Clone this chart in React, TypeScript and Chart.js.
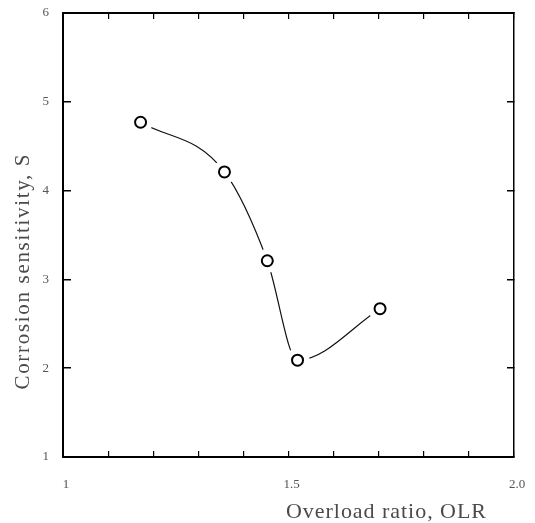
import React, { useEffect, useRef } from "react";
import { Chart, registerables } from "chart.js";

Chart.register(...registerables);

const olr = [1.172, 1.358, 1.453, 1.52, 1.703];
const sensitivity = [4.77, 4.21, 3.21, 2.09, 2.67];
const xTickLabels: Record<string, string> = { "1": "1", "1.5": "1.5", "2": "2.0" };
const yTitle = "Corrosion sensitivity, S";
const xTitle = "Overload ratio, OLR";

const SERIF = "'Liberation Serif', 'DejaVu Serif', serif";

const zeroPad = (s: any) => {
  s.paddingLeft = 0;
  s.paddingRight = 0;
  s.paddingTop = 0;
  s.paddingBottom = 0;
};

const titlePlugin = {
  id: "axisTitles",
  afterDraw(chart: any) {
    const ctx = chart.ctx as CanvasRenderingContext2D;
    const drawSpaced = (text: string, x: number, y: number, target: number, rot: number, size: number) => {
      ctx.save();
      ctx.font = `${size}px ${SERIF}`;
      ctx.fillStyle = "#4a4a4a";
      (ctx as any).letterSpacing = "0px";
      const w = ctx.measureText(text).width;
      const sp = Math.max(0, (target - w) / (text.length - 1));
      (ctx as any).letterSpacing = `${sp}px`;
      ctx.translate(x, y);
      ctx.rotate(rot);
      ctx.textAlign = "left";
      ctx.textBaseline = "middle";
      ctx.fillText(text, -target / 2, 0);
      ctx.restore();
    };
    drawSpaced(yTitle, 23, 272, 235, -Math.PI / 2, 21);
    drawSpaced(xTitle, 386, 512, 200, 0, 22);
  },
};

export default function App() {
  const ref = useRef<HTMLCanvasElement>(null);
  useEffect(() => {
    document.body.style.margin = "0";
    const pts = olr.map((x, i) => ({ x, y: sensitivity[i] }));
    const chart = new Chart(ref.current!, {
      type: "scatter",
      data: {
        datasets: [
          {
            data: pts,
            showLine: true,
            pointRadius: 0,
            borderColor: "#111",
            borderWidth: 1.2,
            cubicInterpolationMode: "monotone",
            order: 3,
          } as any,
          {
            data: pts,
            showLine: false,
            pointRadius: 12,
            pointBorderWidth: 0,
            pointBackgroundColor: "#ffffff",
            pointBorderColor: "#ffffff",
            order: 2,
          },
          {
            data: pts,
            showLine: false,
            pointRadius: 5.5,
            pointBorderWidth: 2,
            pointBorderColor: "#000",
            pointBackgroundColor: "#ffffff",
            order: 1,
          },
        ],
      },
      options: {
        animation: false,
        responsive: false,
        maintainAspectRatio: false,
        events: [],
        layout: { padding: { top: 13, right: 21, bottom: 0, left: 0 } },
        plugins: { legend: { display: false }, tooltip: { enabled: false } },
        scales: {
          x: {
            type: "linear",
            position: "bottom",
            min: 1,
            max: 2,
            afterFit: (s: any) => { s.height = 66; zeroPad(s); },
            border: { display: true, color: "#000", width: 2 },
            grid: { drawOnChartArea: false, drawTicks: true, tickLength: -6, color: "#000", lineWidth: 1.2 },
            ticks: {
              stepSize: 0.1,
              padding: 26,
              labelOffset: 3,
              color: "#555",
              font: { family: SERIF, size: 13 },
              maxRotation: 0,
              autoSkip: false,
              callback: (v: any) => {
                const key = String(Math.round(Number(v) * 10) / 10);
                return xTickLabels[key] ?? "";
              },
            },
          },
          x2: {
            type: "linear",
            position: "top",
            min: 1,
            max: 2,
            afterFit: (s: any) => { s.height = 0; zeroPad(s); },
            border: { display: true, color: "#000", width: 2 },
            grid: { drawOnChartArea: false, drawTicks: true, tickLength: -6, color: "#000", lineWidth: 1.2 },
            ticks: { display: false, stepSize: 0.1, autoSkip: false },
          },
          y: {
            type: "linear",
            position: "left",
            min: 1,
            max: 6,
            afterFit: (s: any) => { s.width = 63; zeroPad(s); },
            border: { display: true, color: "#000", width: 2 },
            grid: { drawOnChartArea: false, drawTicks: true, tickLength: -8, color: "#000", lineWidth: 1.5 },
            ticks: {
              stepSize: 1,
              padding: 22,
              color: "#555",
              font: { family: SERIF, size: 13 },
            },
          },
          y2: {
            type: "linear",
            position: "right",
            min: 1,
            max: 6,
            afterFit: (s: any) => { s.width = 0; zeroPad(s); },
            border: { display: true, color: "#000", width: 1.5 },
            grid: { drawOnChartArea: false, drawTicks: true, tickLength: -7, color: "#000", lineWidth: 1.5 },
            ticks: { display: false, stepSize: 1 },
          },
        },
      },
      plugins: [titlePlugin],
    });
    return () => chart.destroy();
  }, []);
  return (
    <div style={{ width: 535, height: 523 }}>
      <canvas ref={ref} width={535} height={523} />
    </div>
  );
}
